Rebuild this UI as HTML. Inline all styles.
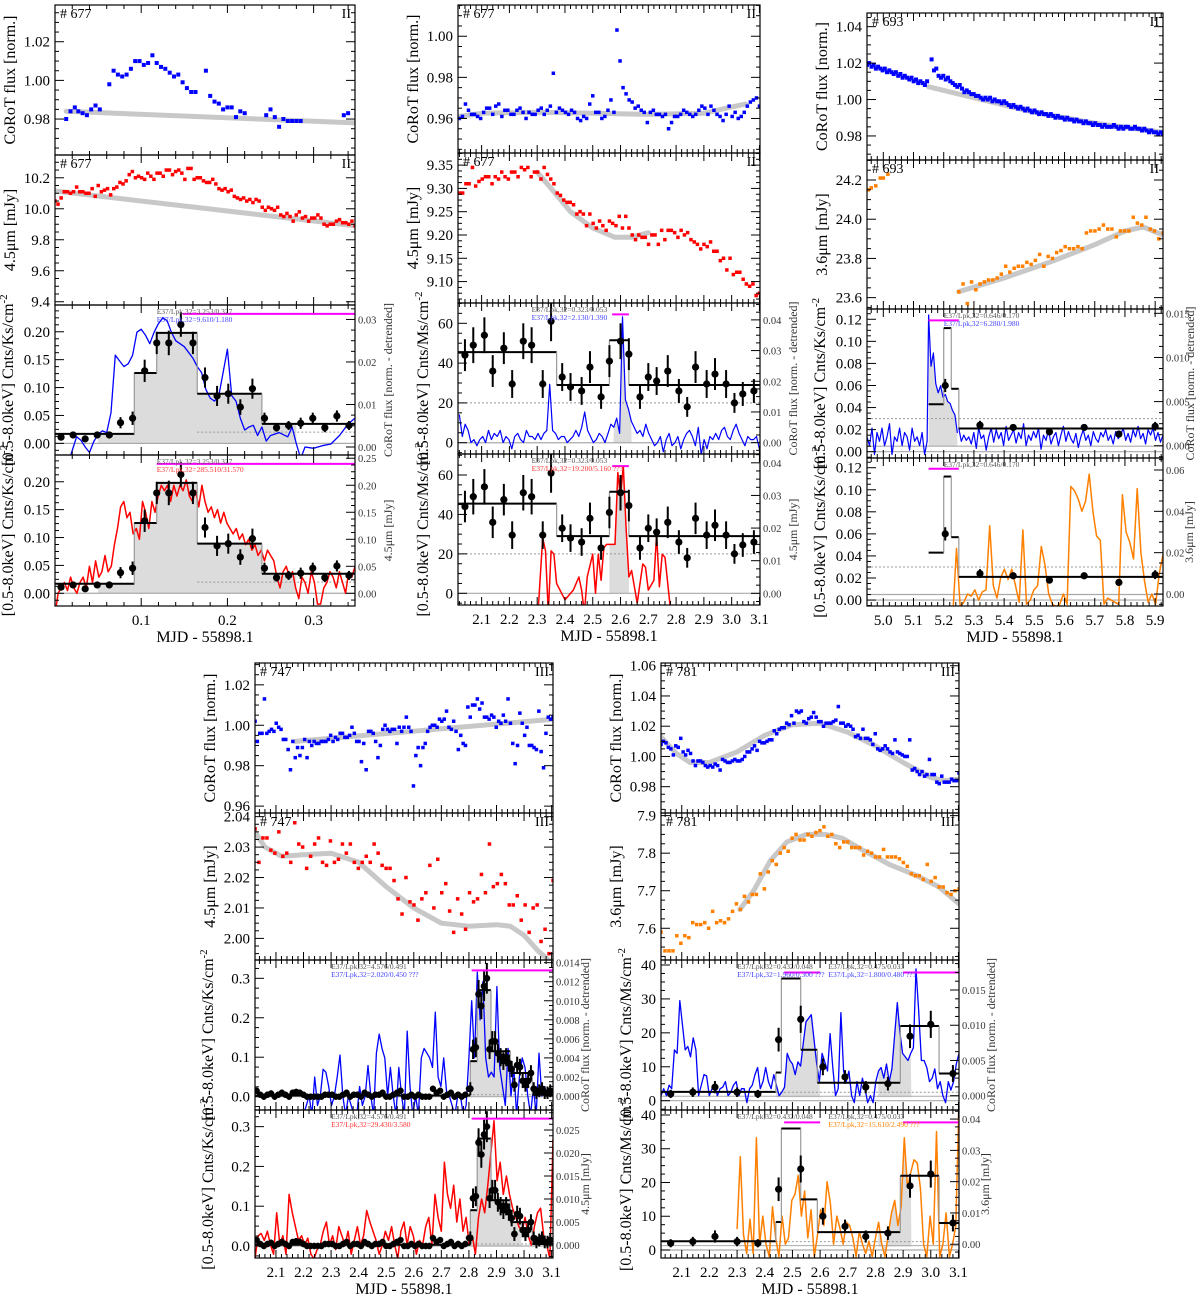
<!DOCTYPE html>
<html><head><meta charset="utf-8"><style>
html,body{margin:0;padding:0;background:#fff;}
svg{display:block;font-family:"Liberation Serif",serif;}
</style></head><body>
<svg id="fig" width="1200" height="1300" viewBox="0 0 1200 1300" xmlns="http://www.w3.org/2000/svg"></svg>
<script>
// ===== DATA =====
// Column 1 (#677, Spitzer 4.5um)
const c1BlueX=[.013,.018,.023,.027,.032,.037,.042,.047,.052,.063,.068,.073,.078,.083,.088,.093,.098,.103,.108,.113,.118,.123,.128,.133,.138,.143,.148,.153,.158,.163,.175,.180,.185,.190,.195,.200,.205,.210,.215,.220,.245,.250,.255,.260,.265,.270,.275,.280,.285,.335,.340];
const c1BlueY=[.98,.984,.986,.984,.983,.982,.985,.987,.985,.998,1.005,1.003,1.002,1.003,1.006,1.010,1.010,1.008,1.009,1.013,1.009,1.007,1.006,1.004,1.002,1.003,.999,.996,.994,.994,1.005,.992,.989,.988,.985,.986,.986,.981,.984,.983,.982,.985,.981,.976,.980,.979,.979,.979,.979,.982,.983];
const c1TrendX=[.013,.348], c1TrendY=[.984,.978];
const c1RedY=[10.05,10.03,10.07,10.11,10.11,10.10,10.11,10.14,10.11,10.11,10.10,10.10,10.13,10.08,10.15,10.11,10.12,10.13,10.09,10.13,10.14,10.17,10.16,10.18,10.22,10.24,10.20,10.21,10.20,10.19,10.23,10.21,10.19,10.23,10.23,10.21,10.25,10.25,10.22,10.24,10.25,10.23,10.19,10.26,10.26,10.19,10.20,10.20,10.18,10.17,10.17,10.19,10.16,10.13,10.12,10.13,10.11,10.12,10.08,10.07,10.06,10.07,10.05,10.06,10.04,10.06,10.05,10.01,9.99,10.01,10.00,9.99,10.01,9.96,9.95,9.97,9.95,9.92,9.96,9.98,9.94,9.95,9.92,9.94,9.94,9.96,9.94,9.90,9.89,9.90,9.90,9.92,9.93,9.91,9.91,9.90,9.92,9.89];
const c1RedTrendX=[0,.348], c1RedTrendY=[10.115,9.89];
const c1StepEdges=[0,.092,.118,.165,.24,.348], c1StepVals=[.017,.126,.198,.089,.035];
const c1ErrX=[.007,.021,.035,.049,.063,.076,.090,.104,.118,.132,.146,.160,.174,.188,.201,.215,.229,.243,.257,.271,.285,.299,.313,.327,.341];
const c1ErrY=[.011,.015,.008,.015,.015,.037,.045,.13,.18,.18,.213,.18,.118,.085,.089,.065,.098,.045,.028,.032,.036,.045,.028,.049,.032];
const c1ErrE=[.005,.006,.005,.006,.006,.01,.012,.02,.02,.022,.022,.02,.018,.018,.018,.014,.018,.01,.007,.008,.01,.01,.008,.01,.008];
const c1BlueLcX=[.015,.025,.03,.035,.04,.045,.05,.055,.06,.065,.07,.075,.08,.085,.09,.095,.1,.105,.11,.115,.12,.125,.13,.135,.14,.15,.16,.165,.17,.175,.18,.185,.19,.195,.2,.205,.21,.215,.22,.225,.23,.235,.24,.245,.25,.26,.27,.275,.28,.285,.29,.3,.31,.32,.33,.34,.348];
const c1BlueLcY=[-.004,.0024,.0016,0,-.0013,.0013,.003,.0038,.0034,.0081,.0216,.0202,.0189,.0196,.0216,.027,.0277,.0263,.0243,.027,.029,.0304,.0297,.027,.025,.0236,.0209,.0189,.0175,.0135,.0115,.0108,.0121,.0175,.023,.0121,.0108,.0068,.004,.0047,.0051,.0027,.0047,.0014,.0027,.0034,.0024,.0047,.0007,-.0027,0,-.0003,.0003,.0007,.0027,.0054,.0068];
const c1RedLcY=[-.04,.0,.01,.02,.005,.03,.01,.0,.02,.03,.01,.05,.02,.06,.03,.04,.07,.04,.05,.09,.12,.16,.17,.14,.15,.11,.12,.10,.17,.15,.12,.17,.15,.18,.20,.19,.20,.17,.20,.18,.20,.19,.21,.18,.17,.19,.16,.20,.17,.15,.16,.14,.155,.13,.15,.13,.12,.11,.12,.10,.11,.09,.10,.08,.09,.07,.08,.06,.08,.07,.06,.03,.01,.04,.05,.03,.04,.01,-.01,.03,.02,.0,.04,.02,-.02,-.02,.01,.02,.04,.03,.01,.04,.02,.0,.04,.03,.05];

// Column 2 (#677, later window)
const c2BlueY=[.960,.961,.967,.964,.962,.962,.961,.960,.963,.965,.965,.962,.966,.967,.961,.964,.964,.962,.962,.964,.965,.963,.960,.963,.962,.962,.964,.965,.962,.964,.966,.982,.963,.965,.964,.963,.962,.964,.963,.960,.959,.961,.960,.967,.971,.963,.963,.960,.961,.964,.969,.963,1.003,.988,.975,.972,.969,.968,.965,.966,.964,.963,.958,.963,.964,.962,.962,.961,.962,.955,.958,.961,.961,.962,.964,.963,.962,.961,.962,.964,.966,.965,.962,.966,.964,.962,.961,.959,.962,.966,.961,.963,.960,.961,.963,.966,.968,.969,.970,.966];
const c2TrendX=[2.02,2.1,2.3,2.5,2.7,2.9,2.98,3.05], c2TrendY=[.961,.9625,.963,.9625,.962,.9625,.965,.967];
const c2RedY=[9.29,9.29,9.31,9.31,9.345,9.305,9.315,9.32,9.325,9.325,9.31,9.325,9.32,9.335,9.325,9.32,9.335,9.335,9.325,9.345,9.34,9.345,9.325,9.335,9.335,9.32,9.345,9.33,9.32,9.31,9.29,9.285,9.275,9.27,9.27,9.265,9.245,9.25,9.245,9.22,9.245,9.225,9.215,9.23,9.22,9.21,9.23,9.225,9.22,9.24,9.215,9.24,9.215,9.20,9.19,9.20,9.195,9.195,9.18,9.20,9.20,9.18,9.21,9.19,9.21,9.21,9.205,9.195,9.21,9.20,9.205,9.19,9.185,9.18,9.17,9.18,9.175,9.185,9.165,9.165,9.145,9.15,9.125,9.15,9.115,9.12,9.12,9.105,9.095,9.09,9.095,9.07,9.075];
const c2RedTrendX=[2.30,2.35,2.42,2.5,2.58,2.64,2.7], c2RedTrendY=[9.335,9.30,9.25,9.215,9.195,9.195,9.205];
const c2StepEdges=[2.015,2.37,2.56,2.63,3.102], c2StepVals=[45.5,29,51.5,29];
const c2ErrX=[2.04,2.07,2.11,2.14,2.18,2.21,2.25,2.28,2.32,2.35,2.39,2.42,2.46,2.49,2.53,2.56,2.6,2.63,2.67,2.7,2.73,2.77,2.81,2.84,2.87,2.91,2.94,2.98,3.01,3.04,3.08];
const c2ErrY=[44,49,54,36,47.5,29.5,51,49,29.5,61,33,28,26,38,23,41,51,44.5,23,33,31,36,26,18,38,29.5,34.5,29.5,20,24.5,26];
const c2ErrE=[8,9,9,8,8,7,9,9,7,10,7,7,7,8,6,8,9,8,6,7,7,8,6,5,8,7,8,7,5,6,6];
const c2BlueLcY=[.009,.002,.006,.004,0,.001,-.001,.001,.002,0,.004,.001,.003,.002,.004,0,.002,.001,-.002,.002,.003,.001,0,.004,.002,.002,.001,.003,.001,.003,.004,.019,.004,.003,.001,.002,.002,.000,.001,.002,.004,.002,.005,.010,.004,.002,0,.001,.003,.002,.000,.003,.006,.005,.008,.003,.041,.014,.011,.007,.005,.003,.004,.002,.006,.003,.001,-.001,0,.002,-.003,.001,.003,-.001,0,.002,-.002,.001,.003,.004,.002,-.001,.005,-.004,.001,-.002,.002,.001,.003,.001,.004,.005,.002,.001,.004,.006,.003,.001,-.001,.002,.001,.001,.002,-.002];
const c2RedLcX=[2.30,2.32,2.33,2.34,2.35,2.36,2.37,2.40,2.43,2.45,2.46,2.47,2.48,2.50,2.51,2.52,2.53,2.54,2.55,2.56,2.58,2.59,2.60,2.61,2.62,2.63,2.64,2.65,2.66,2.68,2.69,2.70,2.72,2.73,2.74,2.75,2.76,2.78];
const c2RedLcY=[-.01,.017,.013,-.006,.013,.012,.003,-.002,.001,.005,.001,-.006,.005,.012,.0,.012,.004,.014,.015,.015,.015,.037,.030,.039,.020,.005,.007,.002,-.003,.009,.008,.001,.004,.018,.002,.012,.011,-.005];

// Column 3 (#693, 3.6um)
const c3BluePreY=[1.019,1.020,1.018,1.019,1.017,1.018,1.017,1.016,1.017,1.015,1.016,1.015,1.014,1.015,1.013,1.014,1.012,1.013,1.012,1.011,1.012,1.010,1.011,1.009,1.010,1.009,1.008,1.010];
const c3BluePostY=[1.022,1.016,1.017,1.013,1.012,1.013,1.011,1.012,1.010,1.009,1.008,1.007,1.008,1.006,1.004,1.005,1.004,1.003,1.003,1.002,1.002,1.001,1.000,1.001,1.000,1.001,.999,1.000,.999,.999,.998,.999,.998,.997,.996,.997,.996,.995,.996,.995,.994,.995,.994,.993,.994,.993,.992,.993,.992,.992,.991,.992,.991,.990,.991,.990,.990,.989,.990,.989,.989,.988,.989,.988,.988,.987,.988,.987,.987,.986,.987,.986,.986,.985,.986,.985,.985,.985,.986,.985,.984,.985,.984,.985,.985,.984,.984,.985,.984,.984,.983,.984,.983,.982,.983,.982,.982,.981,.982,.981];
const c3TrendX=[5.15,5.3,5.5,5.7,5.926], c3TrendY=[1.007,1.001,.993,.987,.982];
const c3OrangeAX=[4.95,4.96,4.975,4.99,5.0,5.015], c3OrangeAY=[24.15,24.16,24.17,24.21,24.21,24.23];
const c3OrangeBY=[23.63,23.67,23.57,23.68,23.64,23.67,23.68,23.69,23.69,23.70,23.72,23.76,23.73,23.75,23.76,23.76,23.78,23.77,23.79,23.82,23.76,23.81,23.80,23.83,23.84,23.86,23.85,23.85,23.86,23.85,23.93,23.94,23.94,23.95,23.97,23.95,23.95,23.91,23.94,23.94,23.94,24.01,23.98,23.97,24.01,23.95,23.94,23.90,23.93];
const c3OrTrendX=[5.25,5.4,5.55,5.7,5.8,5.86,5.926], c3OrTrendY=[23.63,23.70,23.78,23.87,23.94,23.96,23.92];
const c3StepEdges=[5.15,5.2,5.225,5.25,5.926], c3StepVals=[.043,.112,.057,.021];
const c3ErrX=[5.205,5.32,5.43,5.55,5.665,5.78,5.9], c3ErrY=[.06,.024,.022,.018,.022,.016,.023], c3ErrE=[.006,.004,.003,.003,.003,.003,.004];
const c3BlueLcPre=[.001,.0,.002,-.001,.0015,.0005,.002,.0,.001,.0025,-.001,.001,.0005,.002,.0,.0015,.001,-.0005,.002,.0005,.001,.0,.0015,-.001,.0005];
const c3BlueLcSpike=[.0148,.009,.0105,.007,.006,.0068,.0055,.0058,.005,.0048,.004,.0035,.0015];
const c3BlueLcRest=[.002,.0005,.0012,.0006,.001,.0002,.0015,-.0003,.002,.0008,.0012,-.0005,.001,.002,.0004,.0018,.0008,.0015,.0,.0022,.0006,.0012,.0018,.0003,.0015,.0008,.0025,.0,.0012,.0006,.0016,.0009,.002,-.0004,.0012,.0006,.0018,.0002,.001,.0015,.0,.0012,.0022,.0005,.0016,.0008,.0003,.0014,-.0002,.001,.0018,.0006,.0012,.0,.0016,.0008,.0004,.0015,.001,.0018,.0006,.0012,.0002,.0016,.0008,.0012,.002,.0006,.0014,.0004,.0018,.001,.0022,.0008,.0014,.0002,.0018,.0012,.002,.0006,.0015,.0004,.0012];
const c3OrangeLcY=[-.01,.022,-.006,-.004,.0,-.001,.002,-.003,.001,.002,.033,.004,-.002,.008,.012,.007,.012,.004,-.004,.031,-.005,-.003,.002,.004,.023,.014,.0,-.005,-.006,-.005,.0,-.005,.052,.05,.046,.04,.045,.058,.04,.028,.026,-.005,-.002,-.003,-.004,-.005,.048,.03,.025,.017,.051,.02,.006,-.004,.0,-.005,.01,.019];

// Bottom-left (#747, 4.5um)
const aBlueY=[1.002,.992,.996,.996,1.013,.996,.997,.998,.997,1.001,.999,.998,.993,.993,.988,.978,.992,.984,.989,.985,.989,.993,.984,.992,.990,.992,.991,.991,.992,.992,.992,.993,.995,.992,.994,.993,.996,.996,.994,.994,.995,.999,.996,.992,.992,.982,.991,.978,.997,.997,.996,.992,.984,.990,.998,1.000,.998,.997,.998,.998,.991,.999,.997,.999,1.004,.999,.997,.970,.985,.989,.980,.989,.991,.997,.999,1.000,1.000,.999,1.003,1.002,1.003,1.007,.999,.998,1.002,.997,.988,.995,.991,.990,1.009,1.004,1.010,1.010,1.013,1.008,1.011,1.004,1.004,1.003,1.005,1.004,.999,1.002,1.001,1.005,1.002,1.013,1.001,.991,.981,.990,1.006,1.001,.995,.999,.990,.990,.989,.988,1.007,.987,.979,.996,1.004,1.003,1.004];
const aTrendX=[2.17,3.105], aTrendY=[.992,1.003];
const aRedY=[2.036,2.025,2.033,2.033,2.029,2.028,2.035,2.027,2.028,2.025,2.038,2.031,2.030,2.023,2.027,2.031,2.033,2.025,2.024,2.032,2.025,2.026,2.031,2.028,2.031,2.025,2.023,2.025,2.027,2.025,2.031,2.028,2.024,2.023,2.023,2.019,2.013,2.008,2.020,2.012,2.011,2.006,2.013,2.015,2.024,2.010,2.026,2.015,2.018,2.009,2.002,2.013,2.008,2.003,2.015,2.012,2.013,2.021,2.015,2.031,2.017,2.018,2.021,2.018,2.011,2.011,2.014,2.006,2.011,2.002,2.010,2.011,1.999,2.003,1.995,2.019];
const aRedTrendX=[2.024,2.06,2.12,2.2,2.3,2.4,2.5,2.6,2.7,2.8,2.9,2.95,3.0,3.05,3.1], aRedTrendY=[2.035,2.030,2.027,2.0275,2.028,2.025,2.017,2.010,2.005,2.004,2.0045,2.004,2.001,1.996,1.992];
const aStepEdges=[2.024,2.805,2.83,2.88,2.95,3.03,3.105], aStepVals=[.003,.09,.27,.115,.06,.005];
const aBaseErrY=[.015,.005,.0,.005,.008,.0,.005,.01,.005,.0,.01,.012,.01,.005,.0,.0,.0,.0,.0,.005,.005,.005,.0,.0,.005,.01,.0,.005,.005,.0,.01,.005,.0,.005,.005,.01,.0,.0,.005,.01,.015,.0,.0,.005,.0,.005,.0,.0,.0,.02,.01,.015,.0,.005,.01,.0,.005,.0,.005,.02];
const aPeakErrX=[2.805,2.815,2.825,2.835,2.845,2.855,2.865,2.875,2.885,2.895,2.905,2.915,2.925,2.935,2.945,2.955,2.965,2.975,2.985,2.995,3.005,3.015,3.025,3.035,3.045,3.055,3.065,3.075,3.085,3.095];
const aPeakErrY=[.02,.12,.125,.26,.23,.28,.3,.12,.14,.14,.11,.1,.09,.1,.085,.07,.03,.08,.075,.04,.03,.04,.06,.02,.01,.015,.02,.01,.01,.015];
const aBlueLcY=[-.002,-.001,.0,-.002,.002,-.001,.0,.0028,.0025,.001,-.001,.0,.002,.0043,.0,-.002,.0,-.001,-.002,-.002,.001,-.001,.0,.0032,.0,-.002,.0045,.0065,.005,.004,.0,.003,.0,-.002,.003,.0,-.002,.0068,.001,-.002,.0,-.002,.004,.005,.0045,.004,.003,.0088,.002,.001,.004,.0005,.0,-.001,-.002,.0,.0,-.002,-.001,.004,.010,.004,.013,.008,.012,.004,.002,.0025,.002,.0115,.003,.001,-.001,.005,.0,.003,-.002,.002,.004,.003,.0,-.002,.001,-.002,.0045,.0,.001,.0,.0005,.0];
const aRedLcY=[-.003,.002,.0025,.001,.003,.0,-.002,.007,.0,.002,-.002,.011,.007,.004,.001,.002,.0,.0015,-.002,-.003,-.001,.0,.003,.005,.0,.002,-.001,.004,.002,.0,.003,-.002,.001,.004,.0,.002,.0075,.005,.003,.001,-.002,.0,.003,.001,.004,.0,-.003,.003,.005,.0,.004,.002,-.002,.001,.0,.004,.006,.0,.011,.006,.003,.018,.011,.008,.013,.005,.010,.003,.006,.0,.002,-.002,.006,.010,.007,.013,.02,.027,.014,.018,.011,.015,.011,.008,.006,.004,.003,.006,.002,.0,.004,.007,.008,.002,.0,-.003,.023];

// Bottom-right (#781, 3.6um)
const bBlueY=[1.008,1.010,1.009,1.006,1.005,1.001,1.007,1.006,1.012,1.003,1.001,1.004,1.002,.997,.994,.997,.997,.996,.994,.993,.994,.993,.995,.994,.991,.998,.997,.996,.996,.997,.998,.997,.997,.998,1.000,1.003,1.003,1.005,1.007,1.004,1.010,1.009,1.009,1.010,1.011,1.011,1.017,1.015,1.018,1.019,1.019,1.022,1.021,1.027,1.022,1.030,1.029,1.030,1.023,1.022,1.025,1.026,1.029,1.026,1.023,1.023,1.020,1.022,1.022,1.022,1.023,1.024,1.033,1.022,1.022,1.020,1.021,1.020,1.018,1.013,1.014,1.012,1.018,1.012,1.012,1.011,1.008,1.015,1.005,1.004,1.005,1.007,1.005,1.003,1.002,1.011,1.003,1.002,1.001,1.000,1.000,1.011,.991,.992,.990,.988,.990,.987,.988,.998,.988,.988,.983,.982,.987,.983,.983,.983,.985,.984,.984,.989];
const bTrendX=[2.025,2.08,2.13,2.2,2.3,2.4,2.5,2.6,2.7,2.8,2.9,3.0,3.05,3.102], bTrendY=[1.013,1.002,.996,.996,1.003,1.014,1.021,1.022,1.016,1.007,.996,.986,.984,.985];
const bOrangeY=[7.59,7.54,7.54,7.54,7.58,7.56,7.58,7.575,7.615,7.61,7.61,7.615,7.60,7.645,7.615,7.62,7.615,7.625,7.645,7.665,7.65,7.685,7.67,7.69,7.69,7.745,7.705,7.75,7.78,7.77,7.80,7.815,7.805,7.84,7.85,7.835,7.835,7.85,7.845,7.855,7.86,7.87,7.845,7.85,7.825,7.815,7.83,7.83,7.815,7.815,7.815,7.795,7.805,7.8,7.79,7.79,7.81,7.79,7.79,7.79,7.785,7.775,7.765,7.745,7.74,7.74,7.73,7.77,7.725,7.735,7.71,7.71,7.695,7.69,7.70,7.705];
const bOrTrendX=[2.31,2.36,2.42,2.48,2.55,2.62,2.68,2.75,2.85,2.95,3.03,3.102], bOrTrendY=[7.65,7.70,7.78,7.83,7.85,7.85,7.84,7.81,7.77,7.74,7.71,7.665];
const bStepEdges=[2.025,2.44,2.46,2.53,2.59,2.89,3.03,3.102], bStepVals=[2.6,8.3,36,15,5.3,22,8];
const bErrX=[2.06,2.14,2.22,2.30,2.375,2.45,2.53,2.61,2.69,2.765,2.845,2.925,3.0,3.08];
const bErrY=[2,2.5,4,2.5,2,18,24,10,7,4,5,19,22.5,8];
const bErrE=[1.2,1.4,1.8,1.4,1.2,3.5,4,2.5,2,1.8,2,3.5,4,2.5];
const bBlueLcY=[.0,.001,.0,.0015,.001,.0065,.006,.0135,.01,.0065,.007,.0055,.0082,.0065,.0,.0015,.003,.0028,.0,.001,.0015,.0,.001,.0012,.002,.0,.0005,.0015,.002,.0,.001,.001,-.001,.001,.0015,.003,.004,.001,.002,.004,.002,.001,.003,.0015,.0,.0005,.0012,.006,.005,.0045,.003,.0048,.0042,.0075,.0105,.011,.0115,.008,.0045,.002,.006,.0048,.0035,.0088,.004,.0,.001,.0118,.0035,.002,.0035,.0,-.001,.002,.0,.0025,.001,-.001,.0,-.001,.002,.0035,.004,.0025,.0045,.002,.0038,.0085,.0132,.009,.006,.0055,.005,.006,.0068,.018,.012,.005,.005,.004,.002,.0025,.0038,.001,.002,.0,-.001,.002,.0008,.002,.0045,.006];
const bOrangeLcY=[.005,.028,.003,-.003,.008,-.003,.034,.0,.009,.0,-.004,.012,.002,-.004,.009,.0,.002,.014,.016,.022,.009,.017,.002,.011,-.004,.003,.011,.006,.02,.013,.0,.009,.005,.0,.007,.006,.002,-.004,.004,.0,-.003,.001,-.004,.002,.007,.0,-.004,.003,.01,.014,.006,.012,.034,.018,.023,.027,.026,.018,.0,-.004,.009,.0,.036,-.004,.0,.01,-.004,.0,.006,.046];

// Tick label arrays
const c1p1Ticks=[0.98,1.00,1.02], c1p2Ticks=[9.4,9.6,9.8,10.0,10.2], c1p3Ticks=[0,.05,.10,.15,.20], c1p3R=[0,.01,.02,.03], c1p4R=[0,.05,.10,.15,.20,.25], c1XTicks=[0.1,0.2,0.3];
const c2p1Ticks=[0.96,0.98,1.00], c2p2Ticks=[9.10,9.15,9.20,9.25,9.30,9.35], c2p3Ticks=[0,20,40,60], c2R=[0,.01,.02,.03,.04], c2XTicks=[2.1,2.2,2.3,2.4,2.5,2.6,2.7,2.8,2.9,3.0,3.1];
const c3p1Ticks=[0.98,1.00,1.02,1.04], c3p2Ticks=[23.6,23.8,24.0,24.2], c3p3Ticks=[0,.02,.04,.06,.08,.10,.12], c3p3R=[0,.005,.010,.015], c3p4R=[0,.02,.04,.06], c3XTicks=[5.0,5.1,5.2,5.3,5.4,5.5,5.6,5.7,5.8,5.9];
const aP1Ticks=[0.96,0.98,1.00,1.02], aP2Ticks=[2.00,2.01,2.02,2.03,2.04], aP3Ticks=[0,.1,.2,.3], aP3R=[0,.002,.004,.006,.008,.010,.012,.014], aP4R=[0,.005,.010,.015,.020,.025], abXTicks=[2.1,2.2,2.3,2.4,2.5,2.6,2.7,2.8,2.9,3.0,3.1];
const bP1Ticks=[0.98,1.00,1.02,1.04,1.06], bP2Ticks=[7.6,7.7,7.8,7.9], bP3Ticks=[0,10,20,30,40], bP3R=[0,.005,.010,.015], bP4R=[0,.01,.02,.03,.04];

// ===== DRAWING =====
const NS='http://www.w3.org/2000/svg';
const svg=document.getElementById('fig');
let clipN=0;
function mk(tag,attrs,parent){const e=document.createElementNS(NS,tag);for(const k in attrs)e.setAttribute(k,attrs[k]);(parent||svg).appendChild(e);return e;}
function uni(a,b,n){const o=[];for(let i=0;i<n;i++)o.push(a+(b-a)*i/(n-1));return o;}
function P(L,R,T,B,x0,x1,y0,y1,r0,r1){return {L,R,T,B,x0,x1,y0,y1,r0,r1};}
function sx(p,v){return p.L+(v-p.x0)/(p.x1-p.x0)*(p.R-p.L);}
function sy(p,v,r){const a=r?p.r0:p.y0,b=r?p.r1:p.y1;return p.B-(v-a)/(b-a)*(p.B-p.T);}
function open(p,name){clipN++;const cp=mk('clipPath',{id:'cp'+clipN});mk('rect',{x:p.L,y:p.T,width:p.R-p.L,height:p.B-p.T},cp);
  const g=mk('g',{'clip-path':'url(#cp'+clipN+')'});
  
  
  p.g=g;}
function dots(p,xs,ys,col,s,name){const g=mk('g',{fill:col},p.g);
  
  
  for(let i=0;i<ys.length;i++){const r=mk('rect',{x:(sx(p,xs[i])-s/2).toFixed(1),y:(sy(p,ys[i])-s/2).toFixed(1),width:s,height:s},g);
    
    }}
function line(p,xs,ys,col,w,right,name){let d='';for(let i=0;i<ys.length;i++)d+=(i?'L':'M')+sx(p,xs[i]).toFixed(1)+' '+sy(p,ys[i],right).toFixed(1);
  const e=mk('path',{d:d,fill:'none',stroke:col,'stroke-width':w,'stroke-linejoin':'round','stroke-linecap':'round'},p.g);
  
  }
function fillUnder(p,xs,ys,a,b,base,right,name){let pts=[];for(let i=0;i<ys.length;i++)if(xs[i]>=a&&xs[i]<=b)pts.push(sx(p,xs[i]).toFixed(1)+','+sy(p,ys[i],right).toFixed(1));
  if(!pts.length)return;pts.push(sx(p,b).toFixed(1)+','+sy(p,base).toFixed(1));pts.push(sx(p,a).toFixed(1)+','+sy(p,base).toFixed(1));
  const e=mk('polygon',{points:pts.join(' '),fill:'#dcdcdc'},p.g);
  
  }
function stepFill(p,edges,vals,a,b,base,name){let pts=[sx(p,a)+','+sy(p,base)];
  for(let i=0;i<vals.length;i++){const l=Math.max(a,edges[i]),r=Math.min(b,edges[i+1]);if(r<=l)continue;pts.push(sx(p,l)+','+sy(p,vals[i]));pts.push(sx(p,r)+','+sy(p,vals[i]));}
  pts.push(sx(p,b)+','+sy(p,base));
  const e=mk('polygon',{points:pts.join(' '),fill:'#dcdcdc'},p.g);
  
  }
function steps(p,edges,vals,name){const g=mk('g',{},p.g);
  
  
  for(let i=0;i<vals.length;i++){
    if(i>0){const v=mk('line',{x1:sx(p,edges[i]),x2:sx(p,edges[i]),y1:sy(p,vals[i-1]),y2:sy(p,vals[i]),stroke:'#999','stroke-width':1.2},g);
      
      }
    const h=mk('line',{x1:sx(p,edges[i]),x2:sx(p,edges[i+1]),y1:sy(p,vals[i]),y2:sy(p,vals[i]),stroke:'#000','stroke-width':2},g);
    
    }}
function errs(p,xs,ys,es,name,r){const g=mk('g',{},p.g);
  
  
  for(let i=0;i<ys.length;i++){const X=sx(p,xs[i]),e=es[i];
    mk('line',{x1:X,x2:X,y1:sy(p,ys[i]-e),y2:sy(p,ys[i]+e),stroke:'#000','stroke-width':2},g);
    const c=mk('circle',{cx:X,cy:sy(p,ys[i]),r:r||3.6,fill:'#000'},g);
    
    }}
function hline(p,v,col,w,dash,a,b,name){const e=mk('line',{x1:sx(p,a==null?p.x0:a),x2:sx(p,b==null?p.x1:b),y1:sy(p,v),y2:sy(p,v),stroke:col,'stroke-width':w},p.g);
  if(dash)e.setAttribute('stroke-dasharray',dash);
  
  }
function fmt(v,d){return v.toFixed(d);}
function frame(p,o){
  const g=mk('g',{});
  
  
  mk('rect',{x:p.L,y:p.T,width:p.R-p.L,height:p.B-p.T,fill:'none',stroke:'#000','stroke-width':1.2},g);
  const step=0.02;let k=Math.ceil(p.x0/step-1e-6);
  for(let v=k*step;v<=p.x1+1e-9;v+=step){const X=sx(p,v);const major=Math.abs(v*10-Math.round(v*10))<1e-6;const len=major?8:4;
    mk('line',{x1:X,x2:X,y1:p.B,y2:p.B-len,stroke:'#000','stroke-width':1},g);mk('line',{x1:X,x2:X,y1:p.T,y2:p.T+len,stroke:'#000','stroke-width':1},g);}
  const yt=o.yt,dy=yt[1]-yt[0];
  for(let i=-1;i<yt.length;i++){const base=i<0?yt[0]-dy:yt[i];
    for(let j=0;j<4;j++){const v=base+dy*j/4;if(v<p.y0||v>p.y1)continue;const Y=sy(p,v),len=j?4:9;
      mk('line',{x1:p.L,x2:p.L+len,y1:Y,y2:Y,stroke:'#000','stroke-width':1},g);
      if(!o.rt)mk('line',{x1:p.R,x2:p.R-len,y1:Y,y2:Y,stroke:'#000','stroke-width':1},g);}}
  yt.forEach(v=>{const t=mk('text',{x:p.L-5,y:sy(p,v)+5,'text-anchor':'end','font-size':15,fill:'#000'},g);t.textContent=fmt(v,o.yd);
    
    });
  if(o.rt){const rt=o.rt,dr=rt[1]-rt[0];
    for(let i=-1;i<rt.length;i++){const base=i<0?rt[0]-dr:rt[i];
      for(let j=0;j<4;j++){const v=base+dr*j/4;if(v<p.r0||v>p.r1)continue;const Y=sy(p,v,true),len=j?4:9;
        mk('line',{x1:p.R,x2:p.R-len,y1:Y,y2:Y,stroke:'#000','stroke-width':1},g);}}
    rt.forEach(v=>{const t=mk('text',{x:p.R+3,y:sy(p,v,true)+4,'font-size':10.5,fill:'#333'},g);t.textContent=fmt(v,o.rd);
      
      });
    const ry=(p.T+p.B)/2,rx=p.R+(o.rlx||37);
    const t=mk('text',{x:rx,y:ry,'text-anchor':'middle','font-size':12,fill:'#333',transform:'rotate(-90 '+rx+' '+ry+')'},g);t.textContent=o.rl;
    
    }
  const ly=(p.T+p.B)/2,lx=p.L-(o.llx||40);
  const t=mk('text',{x:lx,y:ly,'text-anchor':'middle','font-size':16,fill:'#000',transform:'rotate(-90 '+lx+' '+ly+')'},g);
  if(o.sup){t.textContent=o.yl;const s=mk('tspan',{dy:-6,'font-size':11},t);s.textContent=o.sup;}else t.textContent=o.yl;
  
  
  if(o.id){const a=mk('text',{x:p.L+5,y:p.T+13,'font-size':14,fill:'#000'},g);a.textContent=o.id;
    
    
    const b=mk('text',{x:p.R-4,y:p.T+13,'font-size':14,fill:'#000','text-anchor':'end'},g);b.textContent=o.cls;
    
    }
  if(o.xt){o.xt.forEach(v=>{const tt=mk('text',{x:sx(p,v),y:p.B+19,'text-anchor':'middle','font-size':15,fill:'#000'},g);tt.textContent=fmt(v,1);
      
      });
    const xl=mk('text',{x:(p.L+p.R)/2,y:p.B+36,'text-anchor':'middle','font-size':16,fill:'#000'},g);xl.textContent='MJD - 55898.1';
    
    }
}
function annot(p,x,lines,name){const g=mk('g',{'font-size':7.5},p.g);
  
  
  lines.forEach((l,i)=>{const t=mk('text',{x:sx(p,x),y:p.T+9+i*8,fill:l[1]},g);t.textContent=l[0];});}
function magenta(p,a,b,v,name){hline(p,v,'#ff00ff',2,null,a,b,name);}

const CNK='[0.5-8.0keV] Cnts/Ks/cm',CNM='[0.5-8.0keV] Cnts/Ms/cm';
// ---- Column 1 ----
let p=P(55,355,5,155,0,.348,.9614,1.039);
open(p,'c1-corot-panel');line(p,c1TrendX,c1TrendY,'#c8c8c8',5,false,'corot-trend');dots(p,c1BlueX,c1BlueY,'#0000ff',4,'corot-flux');
frame(p,{name:'c1-corot',yt:c1p1Ticks,yd:2,yl:'CoRoT flux [norm.]',id:'# 677',cls:'II'});
p=P(55,355,155,305,0,.348,9.379,10.347);
open(p,'c1-ir-panel');line(p,c1RedTrendX,c1RedTrendY,'#c8c8c8',5,false,'ir-trend');dots(p,uni(0,.348,c1RedY.length),c1RedY,'#ff0000',3.5,'ir-flux');
frame(p,{name:'c1-ir',yt:c1p2Ticks,yd:1,yl:'4.5μm [mJy]',id:'# 677',cls:'II'});
p=P(55,355,305,455,0,.348,-.0209,.248,-.00188,.0334);
open(p,'c1-xray-corot-panel');stepFill(p,c1StepEdges,c1StepVals,.05,.28,0,'flare-fill');hline(p,0,'#aaa',1.2,null,null,null,'zero-line');hline(p,.02,'#999',1,'2,2',.165,null,'quiescent-level');
line(p,c1BlueLcX,c1BlueLcY,'#0000ff',1.3,true,'corot-detrended');steps(p,c1StepEdges,c1StepVals,'xray-blocks');errs(p,c1ErrX,c1ErrY,c1ErrE,'xray-rates');magenta(p,.148,.348,.232,'flare-interval');
annot(p,.118,[['E37/Lpk,32=3.253/0.327','#555'],['E37/Lpk,32=9.610/1.180','#4444ff']],'flare-energy-note');
frame(p,{name:'c1-xray-corot',yt:c1p3Ticks,yd:2,yl:CNK,sup:'-2',llx:42,rt:c1p3R,rd:2,rl:'CoRoT flux [norm. - detrended]'});
p=P(55,355,455,606,0,.348,-.0228,.248,-.0235,.256);
open(p,'c1-xray-ir-panel');stepFill(p,c1StepEdges,c1StepVals,.05,.28,0,'flare-fill');hline(p,0,'#aaa',1.2,null,null,null,'zero-line');hline(p,.02,'#999',1,'2,2',.165,null,'quiescent-level');
line(p,uni(0,.348,c1RedLcY.length),c1RedLcY,'#ff0000',1.5,true,'ir-detrended');steps(p,c1StepEdges,c1StepVals,'xray-blocks');errs(p,c1ErrX,c1ErrY,c1ErrE,'xray-rates');magenta(p,.118,.348,.232,'flare-interval');
annot(p,.118,[['E37/Lpk,32=3.253/0.327','#555'],['E37/Lpk,32=285.510/31.570','#ff3333']],'flare-energy-note');
frame(p,{name:'c1-xray-ir',yt:c1p3Ticks,yd:2,yl:CNK,sup:'-2',llx:42,rt:c1p4R,rd:2,rl:'4.5μm [mJy]',xt:c1XTicks});

// ---- Column 2 ----
p=P(458,760,5,153,2.015,3.102,.9432,1.0152);
open(p,'c2-corot-panel');line(p,c2TrendX,c2TrendY,'#c8c8c8',5,false,'corot-trend');dots(p,uni(2.02,3.10,c2BlueY.length),c2BlueY,'#0000ff',3.5,'corot-flux');
frame(p,{name:'c2-corot',yt:c2p1Ticks,yd:2,yl:'CoRoT flux [norm.]',id:'# 677',cls:'II'});
p=P(458,760,153,303,2.015,3.102,9.054,9.376);
open(p,'c2-ir-panel');line(p,c2RedTrendX,c2RedTrendY,'#c8c8c8',5,false,'ir-trend');dots(p,uni(2.02,3.10,c2RedY.length),c2RedY,'#ff0000',3.5,'ir-flux');
frame(p,{name:'c2-ir',yt:c2p2Ticks,yd:2,yl:'4.5μm [mJy]',id:'# 677',cls:'II'});
p=P(458,760,303,454,2.015,3.102,-5.67,70.2,-.0037,.0455);
open(p,'c2-xray-corot-panel');const c2bx=uni(2.02,3.10,c2BlueLcY.length);fillUnder(p,c2bx,c2BlueLcY,2.575,2.64,0,true,'flare-fill');hline(p,0,'#aaa',1.2,null,null,null,'zero-line');hline(p,20,'#999',1,'2,2',null,null,'quiescent-level');
line(p,c2bx,c2BlueLcY,'#0000ff',1.2,true,'corot-detrended');steps(p,c2StepEdges,c2StepVals,'xray-blocks');errs(p,c2ErrX,c2ErrY,c2ErrE,'xray-rates');magenta(p,2.57,2.63,64.5,'flare-interval');
annot(p,2.28,[['E37/Lpk,32=0.323/0.053','#555'],['E37/Lpk,32=2.130/1.390','#4444ff']],'flare-energy-note');
frame(p,{name:'c2-xray-corot',yt:c2p3Ticks,yd:0,yl:CNM,sup:'-2',llx:30,rt:c2R,rd:2,rl:'CoRoT flux [norm. - detrended]'});
p=P(458,760,454,605,2.015,3.102,-5.93,70.65,-.00358,.0427);
open(p,'c2-xray-ir-panel');fillUnder(p,c2RedLcX,c2RedLcY,2.56,2.63,0,true,'flare-fill');hline(p,0,'#aaa',1.2,null,null,null,'zero-line');hline(p,20,'#999',1,'2,2',null,null,'quiescent-level');
line(p,c2RedLcX,c2RedLcY,'#ff0000',1.5,true,'ir-detrended');steps(p,c2StepEdges,c2StepVals,'xray-blocks');errs(p,c2ErrX,c2ErrY,c2ErrE,'xray-rates');magenta(p,2.57,2.63,64.5,'flare-interval');
annot(p,2.28,[['E37/Lpk,32=0.323/0.053','#555'],['E37/Lpk,32=19.200/5.160 ???','#ff3333']],'flare-energy-note');
frame(p,{name:'c2-xray-ir',yt:c2p3Ticks,yd:0,yl:CNM,sup:'-2',llx:30,rt:c2R,rd:2,rl:'4.5μm [mJy]',xt:c2XTicks});

// ---- Column 3 ----
p=P(867,1163,13,160,4.946,5.926,.9668,1.0475);
open(p,'c3-corot-panel');line(p,c3TrendX,c3TrendY,'#c8c8c8',5,false,'corot-trend');dots(p,uni(4.946,5.145,c3BluePreY.length),c3BluePreY,'#0000ff',4,'corot-flux');dots(p,uni(5.16,5.926,c3BluePostY.length),c3BluePostY,'#0000ff',4,'corot-flux');
frame(p,{name:'c3-corot',yt:c3p1Ticks,yd:2,yl:'CoRoT flux [norm.]',id:'# 693',cls:'II'});
p=P(867,1163,160,309,4.946,5.926,23.542,24.302);
open(p,'c3-ir-panel');line(p,c3OrTrendX,c3OrTrendY,'#c8c8c8',5,false,'ir-trend');dots(p,c3OrangeAX,c3OrangeAY,'#ff8000',3.5,'ir-flux');dots(p,uni(5.25,5.926,c3OrangeBY.length),c3OrangeBY,'#ff8000',3.5,'ir-flux');
frame(p,{name:'c3-ir',yt:c3p2Ticks,yd:1,yl:'3.6μm [mJy]',id:'# 693',cls:'II'});
p=P(867,1163,309,458,4.946,5.926,-.0057,.1293,-.00139,.01549);
open(p,'c3-xray-corot-panel');const c3sx=uni(5.15,5.245,c3BlueLcSpike.length);fillUnder(p,c3sx,c3BlueLcSpike,5.15,5.245,.005,true,'flare-fill');
hline(p,0,'#aaa',1.2,null,null,null,'zero-line');hline(p,.005,'#aaa',1.2,null,null,null,'baseline');hline(p,.03,'#999',1,'2,2',null,null,'quiescent-level');
line(p,uni(4.946,5.145,c3BlueLcPre.length),c3BlueLcPre,'#0000ff',1.2,true,'corot-detrended');line(p,[5.145,5.15],[c3BlueLcPre[c3BlueLcPre.length-1],c3BlueLcSpike[0]],'#0000ff',1.2,true,'corot-detrended-link');line(p,c3sx,c3BlueLcSpike,'#0000ff',1.2,true,'corot-detrended');line(p,uni(5.25,5.926,c3BlueLcRest.length),c3BlueLcRest,'#0000ff',1.2,true,'corot-detrended');
steps(p,c3StepEdges,c3StepVals,'xray-blocks');errs(p,c3ErrX,c3ErrY,c3ErrE,'xray-rates');magenta(p,5.15,5.25,.119,'flare-interval');
annot(p,5.2,[['E37/Lpk,32=0.646/0.170','#555'],['E37/Lpk,32=6.280/1.980','#4444ff']],'flare-energy-note');
frame(p,{name:'c3-xray-corot',yt:c3p3Ticks,yd:2,yl:CNK,sup:'-2',llx:42,rt:c3p3R,rd:3,rl:'CoRoT flux [norm. - detrended]',rlx:31});
p=P(867,1163,458,606,4.946,5.926,-.0054,.1288,-.0058,.0658);
open(p,'c3-xray-ir-panel');hline(p,0,'#aaa',1.2,null,null,null,'zero-line');hline(p,.005,'#aaa',1.2,null,null,null,'baseline');hline(p,.03,'#999',1,'2,2',null,null,'quiescent-level');
line(p,uni(5.23,5.926,c3OrangeLcY.length),c3OrangeLcY,'#ff8000',1.5,true,'ir-detrended');steps(p,c3StepEdges,c3StepVals,'xray-blocks');errs(p,c3ErrX,c3ErrY,c3ErrE,'xray-rates');magenta(p,5.15,5.25,.119,'flare-interval');
annot(p,5.2,[['E37/Lpk,32=0.646/0.170','#555']],'flare-energy-note');
frame(p,{name:'c3-xray-ir',yt:c3p3Ticks,yd:2,yl:CNK,sup:'-2',llx:42,rt:c3p4R,rd:2,rl:'3.6μm [mJy]',rlx:30,xt:c3XTicks});

// ---- Bottom-left ----
p=P(255,553,663,813,2.024,3.105,.9566,1.0308);
open(p,'a-corot-panel');line(p,aTrendX,aTrendY,'#c8c8c8',5,false,'corot-trend');dots(p,uni(2.024,3.105,aBlueY.length),aBlueY,'#0000ff',3.5,'corot-flux');
frame(p,{name:'a-corot',yt:aP1Ticks,yd:2,yl:'CoRoT flux [norm.]',id:'# 747',cls:'III'});
p=P(255,553,813,960,2.024,3.105,1.9929,2.0412);
open(p,'a-ir-panel');line(p,aRedTrendX,aRedTrendY,'#c8c8c8',5,false,'ir-trend');dots(p,uni(2.024,3.105,aRedY.length),aRedY,'#ff0000',3.5,'ir-flux');
frame(p,{name:'a-ir',yt:aP2Ticks,yd:2,yl:'4.5μm [mJy]',id:'# 747',cls:'III'});
const aBaseX=uni(2.03,2.80,aBaseErrY.length);
p=P(255,553,960,1110,2.024,3.105,-.0338,.3464,-.00147,.01428);
open(p,'a-xray-corot-panel');stepFill(p,aStepEdges,aStepVals,2.805,2.95,0,'flare-fill');hline(p,0,'#aaa',1.2,null,null,null,'zero-line');hline(p,.005,'#999',1,'2,2',2.8,null,'quiescent-level');
line(p,uni(2.2,3.105,aBlueLcY.length),aBlueLcY,'#0000ff',1.3,true,'corot-detrended');steps(p,aStepEdges,aStepVals,'xray-blocks');
errs(p,aBaseX,aBaseErrY,aBaseErrY.map(()=>.008),'xray-rates-quiescent',3.2);errs(p,aPeakErrX,aPeakErrY,aPeakErrY.map(v=>.015+v*.08),'xray-rates-flare',3.4);magenta(p,2.81,3.105,.32,'flare-interval');
annot(p,2.3,[['E37/Lpk,32=4.576/0.491','#555'],['E37/Lpk,32=2.020/0.450 ???','#4444ff']],'flare-energy-note');
frame(p,{name:'a-xray-corot',yt:aP3Ticks,yd:1,yl:CNK,sup:'-2',llx:42,rt:aP3R,rd:3,rl:'CoRoT flux [norm. - detrended]',rlx:36});
p=P(255,553,1110,1258,2.024,3.105,-.0302,.3418,-.00283,.02935);
open(p,'a-xray-ir-panel');stepFill(p,aStepEdges,aStepVals,2.805,2.99,0,'flare-fill');hline(p,0,'#aaa',1.2,null,null,null,'zero-line');hline(p,.005,'#999',1,'2,2',2.8,null,'quiescent-level');
line(p,uni(2.024,3.105,aRedLcY.length),aRedLcY,'#ff0000',1.5,true,'ir-detrended');steps(p,aStepEdges,aStepVals,'xray-blocks');
errs(p,aBaseX,aBaseErrY,aBaseErrY.map(()=>.008),'xray-rates-quiescent',3.2);errs(p,aPeakErrX,aPeakErrY,aPeakErrY.map(v=>.015+v*.08),'xray-rates-flare',3.4);magenta(p,2.81,3.105,.32,'flare-interval');
annot(p,2.3,[['E37/Lpk,32=4.576/0.491','#555'],['E37/Lpk,32=29.430/3.580','#ff3333']],'flare-energy-note');
frame(p,{name:'a-xray-ir',yt:aP3Ticks,yd:1,yl:CNK,sup:'-2',llx:42,rt:aP4R,rd:3,rl:'4.5μm [mJy]',rlx:36,xt:abXTicks});

// ---- Bottom-right ----
p=P(661,959,663,813,2.025,3.102,.9626,1.0618);
open(p,'b-corot-panel');line(p,bTrendX,bTrendY,'#c8c8c8',5,false,'corot-trend');dots(p,uni(2.025,3.102,bBlueY.length),bBlueY,'#0000ff',3.5,'corot-flux');
frame(p,{name:'b-corot',yt:bP1Ticks,yd:2,yl:'CoRoT flux [norm.]',id:'# 781',cls:'III'});
p=P(661,959,813,960,2.025,3.102,7.5155,7.907);
open(p,'b-ir-panel');line(p,bOrTrendX,bOrTrendY,'#c8c8c8',5,false,'ir-trend');dots(p,uni(2.025,3.102,bOrangeY.length),bOrangeY,'#ff8000',3.5,'ir-flux');
frame(p,{name:'b-ir',yt:bP2Ticks,yd:1,yl:'3.6μm [mJy]',id:'# 781',cls:'III'});
p=P(661,959,960,1110,2.025,3.102,-2.74,41.47,-.00203,.01926);
open(p,'b-xray-corot-panel');const bbx=uni(2.025,3.102,bBlueLcY.length);fillUnder(p,bbx,bBlueLcY,2.44,2.6,1,true,'flare-fill');fillUnder(p,bbx,bBlueLcY,2.81,2.93,1,true,'flare-fill');
hline(p,0,'#aaa',1.2,null,null,null,'zero-line');hline(p,1.3,'#aaa',1,null,null,null,'baseline');hline(p,2.5,'#999',1,'2,2',2.44,null,'quiescent-level');
line(p,bbx,bBlueLcY,'#0000ff',1.3,true,'corot-detrended');steps(p,bStepEdges,bStepVals,'xray-blocks');errs(p,bErrX,bErrY,bErrE,'xray-rates');magenta(p,2.47,2.6,37.8,'flare-interval-1');magenta(p,2.9,3.102,37.8,'flare-interval-2');
annot(p,2.3,[['E37/Lpk,32=0.432/0.048','#555'],['E37/Lpk,32=1.960/0.300 ???','#4444ff']],'flare-energy-note-1');
annot(p,2.63,[['E37/Lpk,32=0.475/0.033','#555'],['E37/Lpk,32=1.800/0.480 ???','#4444ff']],'flare-energy-note-2');
frame(p,{name:'b-xray-corot',yt:bP3Ticks,yd:0,yl:CNM,sup:'-2',llx:30,rt:bP3R,rd:3,rl:'CoRoT flux [norm. - detrended]',rlx:36});
p=P(661,959,1110,1258,2.025,3.102,-2.37,41.48,-.0044,.0429);
open(p,'b-xray-ir-panel');const box=uni(2.30,3.102,bOrangeLcY.length);fillUnder(p,box,bOrangeLcY,2.81,2.93,1,true,'flare-fill');
hline(p,0,'#aaa',1.2,null,null,null,'zero-line');hline(p,1.3,'#aaa',1,null,null,null,'baseline');hline(p,2.5,'#999',1,'2,2',2.44,null,'quiescent-level');
line(p,box,bOrangeLcY,'#ff8000',1.5,true,'ir-detrended');steps(p,bStepEdges,bStepVals,'xray-blocks');errs(p,bErrX,bErrY,bErrE,'xray-rates');magenta(p,2.47,2.6,37.8,'flare-interval-1');magenta(p,2.9,3.102,37.8,'flare-interval-2');
annot(p,2.3,[['E37/Lpk,32=0.432/0.048','#555']],'flare-energy-note-1');
annot(p,2.63,[['E37/Lpk,32=0.475/0.033','#555'],['E37/Lpk,32=15.610/2.490 ???','#ff8000']],'flare-energy-note-2');
frame(p,{name:'b-xray-ir',yt:bP3Ticks,yd:0,yl:CNM,sup:'-2',llx:30,rt:bP4R,rd:2,rl:'3.6μm [mJy]',rlx:30,xt:abXTicks});
</script>
</body></html>
